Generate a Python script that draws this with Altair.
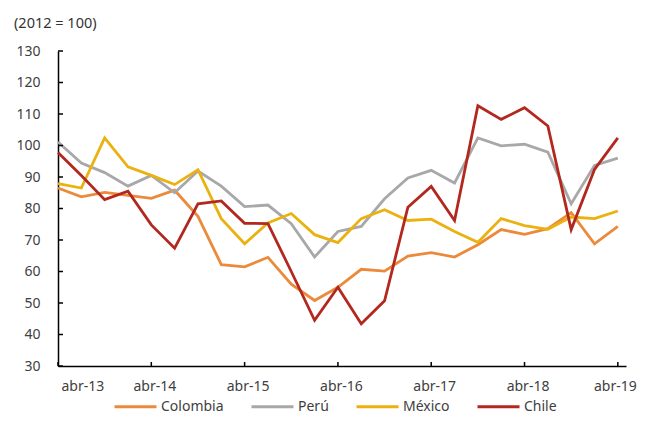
import altair as alt
import pandas as pd

# quarterly observations, abr-13 .. abr-19 (index 0..24)
quarter_idx = list(range(25))
tick_labels = ["abr-13", "abr-14", "abr-15", "abr-16", "abr-17", "abr-18", "abr-19"]
tick_pos = [0, 4, 8, 12, 16, 20, 24]
y_ticks = [30, 40, 50, 60, 70, 80, 90, 100, 110, 120, 130]

series_names = ["Colombia", "Perú", "México", "Chile"]
series_colors = ["#EC8A3B", "#A8A8AA", "#EAB10F", "#B3281E"]

colombia = [86.5, 83.7, 85.1, 84.2, 83.2, 85.8, 77.5, 62.2, 61.5, 64.5, 56.0, 50.8, 55.0,
            60.7, 60.1, 64.9, 66.0, 64.6, 68.5, 73.3, 71.8, 73.6, 78.7, 68.8, 74.3]
peru = [101.1, 94.4, 91.4, 87.1, 90.5, 85.0, 91.9, 87.1, 80.6, 81.1, 75.2, 64.6, 72.7,
        74.3, 83.1, 89.7, 92.1, 88.1, 102.4, 99.9, 100.4, 97.9, 81.5, 93.7, 96.0]
mexico = [87.9, 86.5, 102.4, 93.2, 90.5, 87.6, 92.3, 76.8, 68.8, 75.4, 78.4, 71.7, 69.2,
          76.8, 79.6, 76.2, 76.6, 72.7, 69.3, 76.8, 74.6, 73.4, 77.3, 76.8, 79.2]
chile = [97.8, 90.5, 82.8, 85.5, 74.8, 67.4, 81.5, 82.4, 75.3, 75.2, 60.0, 44.5, 55.0,
         43.4, 50.7, 80.4, 87.0, 76.2, 112.6, 108.3, 112.0, 106.2, 73.3, 92.4, 102.4]

rows = []
for name, vals in zip(series_names, [colombia, peru, mexico, chile]):
    for i, v in zip(quarter_idx, vals):
        rows.append({"serie": name, "q": i, "valor": v, "orden": series_names.index(name)})
df = pd.DataFrame(rows)

FONT = "Noto Sans"
W, H = 568, 315
label_expr = "[" + ",".join(f"'{t}'" for t in tick_labels) + "][round(datum.value/4)]"

x_scale = alt.Scale(domain=[0, 24.35], nice=False, zero=False)
y_scale = alt.Scale(domain=[30, 130], nice=False, zero=False)

x_axis = alt.Axis(values=tick_pos, labelExpr=label_expr, title=None, grid=False,
                  ticks=False, tickSize=0, labelPadding=13,
                  labelOffset={"condition": {"test": "datum.value == 24", "value": -3},
                               "value": 3},
                  labelOverlap=False, labelBound=False,
                  domainColor="#000000", domainWidth=1.5,
                  labelFont=FONT, labelFontSize=14, labelColor="#404040")
y_axis = alt.Axis(values=y_ticks, title=None, grid=False, ticks=False, tickSize=0,
                  labelOverlap=False, labelBound=False,
                  labelPadding=18, domainColor="#000000", domainWidth=1.5,
                  labelFont=FONT, labelFontSize=14, labelColor="#404040")

lines = alt.Chart(df).mark_line(strokeWidth=2.8, strokeJoin="miter").encode(
    x=alt.X("q:Q", scale=x_scale, axis=x_axis),
    y=alt.Y("valor:Q", scale=y_scale, axis=y_axis),
    color=alt.Color("serie:N", sort=series_names,
                    scale=alt.Scale(domain=series_names, range=series_colors),
                    legend=alt.Legend(orient="none", direction="horizontal", title=None,
                                      legendX=55, legendY=333,
                                      symbolType="stroke", symbolSize=1764,
                                      symbolStrokeWidth=3, labelOffset=3,
                                      columnPadding=21, labelFont=FONT,
                                      labelFontSize=14, labelColor="#404040")),
    order=alt.Order("orden:Q"),
    detail="serie:N",
)

ytick_df = pd.DataFrame({"valor": y_ticks})
yticks = alt.Chart(ytick_df).mark_rule(color="#000000", strokeWidth=1.5).encode(
    x=alt.value(0), x2=alt.value(5), y=alt.Y("valor:Q", scale=y_scale, axis=y_axis)
)
xtick_df = pd.DataFrame({"q": tick_pos})
xticks = alt.Chart(xtick_df).mark_rule(color="#000000", strokeWidth=1.5).encode(
    x=alt.X("q:Q", scale=x_scale, axis=x_axis), y=alt.value(H), y2=alt.value(H - 4)
)

chart = alt.layer(lines, yticks, xticks).properties(
    width=W, height=H,
    title=alt.TitleParams("(2012 = 100)", anchor="start", frame="group", dx=-44, offset=13,
                          font=FONT, fontSize=14.5, fontWeight="normal", color="#333333"),
    autosize=alt.AutoSizeParams(type="none"),
    padding={"left": 50, "top": 43, "right": 13, "bottom": 48},
).configure_view(stroke=None)

chart.save("out.html", embed_options={"renderer": "svg", "actions": False})
